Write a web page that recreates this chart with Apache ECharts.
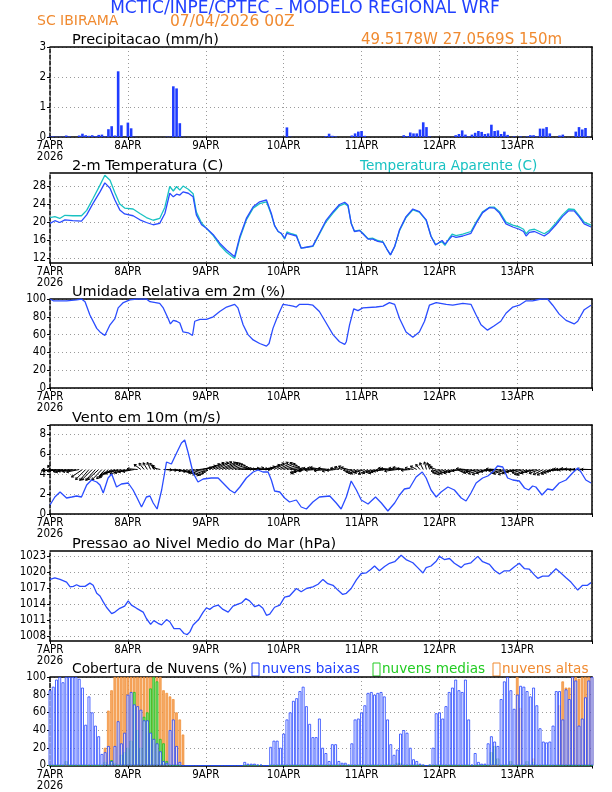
<!DOCTYPE html>
<html><head><meta charset="utf-8">
<script src="https://cdn.jsdelivr.net/npm/echarts/dist/echarts.min.js"></script>
<style>html,body{margin:0;padding:0;background:#fff}#c{width:612px;height:792px}</style>
</head><body><div id="c"></div>
<script>
const dayLabels = ['7APR','8APR','9APR','10APR','11APR','12APR','13APR'];
const hours = Array.from({length:168}, (_, i) => i);

const precip = [0.02,0.02,0.01,0.01,0.01,0.05,0.02,0,0,0.05,
0.11,0.06,0.04,0.06,0.03,0.07,0.08,0.02,0.26,0.36,
0.05,2.19,0.39,0,0.48,0.29,0.01,0,0,0,
0,0,0,0,0,0,0.01,0.01,1.69,1.62,
0.46,0.01,0,0,0,0,0,0,0,0,
0,0,0,0,0,0,0,0,0,0,
0,0,0,0,0,0,0,0,0,0,
0,0,0,0.32,0.01,0,0,0,0,0,
0,0,0,0,0,0.03,0.11,0.04,0.02,0,
0,0,0,0.05,0.12,0.18,0.2,0.04,0,0,
0,0,0,0,0,0,0,0,0,0.06,
0.03,0.15,0.12,0.12,0.25,0.49,0.33,0.02,0,0,
0,0,0,0,0,0.06,0.1,0.22,0.08,0.02,
0.08,0.14,0.2,0.17,0.1,0.12,0.41,0.2,0.22,0.1,
0.18,0.07,0,0.02,0,0.02,0,0.02,0.06,0.06,
0.02,0.28,0.28,0.33,0.12,0,0,0.05,0.08,0,
0,0,0.18,0.33,0.25,0.3,0.02,0];

const tempC = [[0,19.7],[1.5,20.3],[3,19.9],[4.6,20.5],[7,20.3],[9.7,20.2],[11.3,21.6],[13.3,24.2],[15.4,26.7],[16.9,28.7],[18.5,27.5],[20,24.9],[21.5,22.7],[23,21.8],[25.6,21.4],[27.7,20.5],[29.7,19.9],[31.8,19.4],[33.8,19.7],[35.4,21.9],[36.9,26.4],[38,25.6],[39,26.2],[40,26.0],[41,26.7],[42.6,26.4],[44.1,25.6],[45.1,21.6],[46.7,19.4],[48.2,18.6],[50.3,17.2],[52.3,15.3],[54.4,13.8],[56.9,12.3],[58.5,16.8],[60.5,20.8],[62.6,23.4],[64.6,24.5],[66.7,24.9],[67.2,24.8],[68.2,21.9],[69.2,19.2],[70.3,17.9],[71.3,17.5],[72.3,16.4],[73,17.5],[74.4,17.2],[75.9,16.9],[77.4,14.2],[79,14.4],[81,14.7],[83,17.5],[85,20.3],[87.2,22.3],[89.2,23.9],[90.8,24.4],[91.8,23.8],[92.8,19.7],[93.8,17.9],[95.4,18.1],[96.4,17.4],[98,16.2],[99.5,16.2],[101,15.7],[102.6,15.5],[103.8,14.0],[104.9,12.7],[106.2,14.6],[107.7,18.3],[109.7,21.2],[111.8,22.9],[113.8,22.3],[115.9,20.5],[117.4,16.8],[118.8,14.9],[120,15.5],[120.8,15.9],[121.7,15.1],[122.9,16.1],[123.9,16.9],[125.1,16.6],[127.2,16.9],[129.7,17.5],[131.3,19.7],[133.3,22.1],[135.4,23.2],[136.9,23.1],[138.5,22.0],[140.5,19.6],[142.6,18.9],[144.6,18.4],[145.9,17.9],[146.7,16.9],[147.7,17.7],[149.3,17.9],[150.8,17.4],[152.3,16.9],[153.8,17.7],[155.9,19.4],[157.9,21.2],[159.8,22.5],[161.5,22.5],[163,21.2],[164.6,19.6],[166.7,18.9]];

const tempAp = [[0,21.0],[1.5,21.2],[3,20.8],[4.6,21.5],[7,21.4],[9.7,21.4],[11.3,22.6],[13.3,25.3],[15.4,28.2],[16.9,30.4],[18.5,29.3],[20,26.5],[21.5,24.0],[23,23.1],[25.6,22.9],[27.7,21.9],[29.7,21.0],[31.8,20.4],[33.8,20.8],[35.4,23.3],[36.9,27.9],[38,26.9],[39,27.9],[40,27.1],[41,28.0],[42.6,27.3],[44.1,26.3],[45.1,22.2],[46.7,19.8],[48.2,18.6],[50.3,17.0],[52.3,14.9],[54.4,13.3],[56.9,11.9],[58.5,16.4],[60.5,20.5],[62.6,23.1],[64.6,24.1],[66.7,24.5],[67.2,24.4],[68.2,21.6],[69.2,19.2],[70.3,17.9],[71.3,17.4],[72.3,16.2],[73,17.8],[74.4,17.4],[75.9,17.1],[77.4,14.2],[79,14.4],[81,14.6],[83,17.3],[85,20.0],[87.2,22.0],[89.2,23.6],[90.8,24.1],[91.8,23.6],[92.8,19.8],[93.8,18.0],[95.4,18.2],[96.4,17.5],[98,16.3],[99.5,16.4],[101,15.9],[102.6,15.6],[103.8,14.0],[104.9,12.7],[106.2,14.5],[107.7,18.1],[109.7,21.0],[111.8,22.7],[113.8,22.2],[115.9,20.4],[117.4,16.9],[118.8,15.0],[120,15.4],[120.8,15.6],[121.7,14.8],[122.9,16.3],[123.9,17.3],[125.1,17.0],[127.2,17.3],[129.7,17.9],[131.3,20.0],[133.3,22.3],[135.4,23.3],[136.9,23.3],[138.5,22.3],[140.5,20.0],[142.6,19.3],[144.6,18.9],[145.9,18.4],[146.7,17.4],[147.7,18.2],[149.3,18.4],[150.8,17.9],[152.3,17.4],[153.8,18.1],[155.9,19.8],[157.9,21.6],[159.8,22.9],[161.5,22.8],[163,21.5],[164.6,20.0],[166.7,19.3]];

const relHum = [[0,100],[1,98],[5.1,98],[8.2,99],[9.7,100],[10.8,97],[12.3,82],[14.4,67],[15.4,63],[16.9,59],[17.4,60],[18.5,71],[20,78],[21,90],[22.6,96],[24.6,99],[26.7,100],[29.7,100],[30.8,97],[33.8,95],[34.9,90],[36.4,78],[37.1,72],[38,76],[39,75],[40,73],[41,63],[42.6,62],[43.9,59],[44.6,75],[46.2,77],[48.2,77],[50.3,80],[52.3,86],[54.4,91],[56.9,94],[57.9,90],[59.5,71],[61,60],[62.6,54],[64.6,50],[66.7,47],[67.5,50],[68.7,67],[70.3,82],[71.8,94],[73.3,93],[74.9,92],[75.9,91],[76.9,94],[79.5,94],[81,93],[83,86],[85.1,73],[87.2,60],[89.2,52],[90.8,49],[91.3,52],[92.3,71],[93.6,89],[94.9,87],[96.4,90],[100.5,91],[102.6,92],[104.6,96],[106.2,94],[107.7,78],[109.7,63],[111.8,57],[113.8,63],[115.4,75],[116.9,93],[119,96],[122.1,94],[124.1,93],[127.2,95],[129.7,94],[131.3,82],[132.8,71],[134.8,65],[136.9,70],[138.9,75],[140.5,84],[142.6,91],[144.6,93],[146.7,98],[148.7,98],[151.3,100],[153.3,100],[154.9,93],[156.9,83],[159,76],[161.5,72],[162.6,75],[164.6,88],[166.7,93]];

const windSpd = [[0,0.9],[1.5,1.7],[3.1,2.2],[5.1,1.6],[6.7,1.7],[8.2,1.8],[9.7,1.7],[11.3,2.9],[12.8,3.4],[14.4,3.2],[15.4,2.9],[16.4,2.1],[17.9,3.6],[19,4.0],[20.5,2.7],[22,3.0],[24.1,3.1],[25.6,2.4],[26.7,1.7],[28.2,0.7],[29.7,1.7],[30.8,1.8],[31.8,1.1],[33,0.5],[34.4,2.4],[35.9,5.2],[37.4,5.0],[39,6.1],[40.5,7.1],[41.5,7.4],[42.6,6.1],[44.1,4.1],[45.6,3.2],[47.2,3.5],[49.7,3.6],[51.8,3.6],[53.3,3.1],[55.4,2.4],[56.9,2.1],[58.5,2.7],[60.5,3.6],[62.6,4.2],[64.1,4.4],[65.6,4.2],[67.2,4.2],[68.2,3.4],[69.2,2.3],[70.8,2.2],[72.3,1.6],[73.8,1.2],[75.9,1.4],[77.4,0.7],[79,0.5],[81,1.2],[83,1.7],[86.2,1.8],[88.2,1.1],[89.7,0.5],[91.3,1.7],[92.8,3.3],[94.4,2.4],[95.9,1.4],[98,1.0],[100.3,1.7],[102.1,1.1],[104.1,0.3],[106.2,1.1],[107.7,1.9],[109.2,2.5],[110.8,2.6],[112.8,3.7],[114.7,4.2],[115.9,3.6],[117.4,2.4],[119,1.7],[120.5,2.2],[122.6,2.7],[124.6,2.4],[126.7,1.6],[128.2,1.3],[129.7,2.1],[131.3,3.1],[133.3,3.6],[134.9,3.8],[136.4,4.2],[137.9,4.8],[139.5,4.7],[141,3.6],[142.6,3.4],[144.6,3.3],[146.2,2.6],[147.5,2.4],[148.7,2.8],[149.7,2.7],[151.6,1.9],[153.3,2.5],[154.9,2.4],[156.9,3.1],[159,3.4],[161,4.1],[162.6,4.6],[163.6,4.2],[165.1,3.4],[166.7,3.1]];

const windU = [-0.5,-2.8,-3.2,-3.0,-3.4,-3.1,-3.3,-3.5,-3.2,-3.0,
-2.6,-2.4,-2.2,-2.5,-2.3,-2.6,-2.4,-2.0,-2.2,-2.8,
-3.4,-3.6,-3.8,-3.5,-3.2,-3.0,-2.8,-2.5,-1.6,-1.2,
-1.0,-0.8,-0.9,-1.2,-1.8,2.0,2.4,2.6,3.0,3.4,
3.6,3.8,3.5,3.3,3.0,2.8,3.0,3.2,3.4,3.6,
3.8,3.9,4.0,3.8,3.6,3.4,3.2,3.0,2.8,2.6,
2.5,2.7,3.0,3.2,3.0,2.8,2.6,3.0,3.2,3.4,
3.6,3.5,3.2,3.0,2.6,2.0,-1.5,-2.0,-2.2,-2.0,
-2.2,-2.4,-2.6,-2.8,-3.0,-2.8,-2.6,-2.4,-2.2,-2.0,
-1.8,-1.6,-1.8,-2.0,-2.2,-2.4,-2.6,-2.5,-2.3,-2.1,
-2.0,-2.2,-2.4,-2.6,-2.8,-3.0,-3.2,-3.0,-2.8,-2.6,
-2.4,-2.2,-2.0,-1.5,-1.0,-0.8,-0.5,-0.6,-1.0,-1.5,
-2.0,-2.4,-2.6,-2.8,-3.0,-2.8,-2.6,-2.4,-2.2,-2.4,
-2.6,-2.8,-3.0,-3.2,-3.0,-2.8,-2.6,-2.4,-2.8,-3.0,
-3.2,-3.4,-3.0,-2.8,-2.6,-2.4,-2.8,-3.0,-3.2,-3.0,
-2.8,-2.6,-2.4,-2.2,-2.0,-2.2,-2.4,-2.6,-2.8,-3.0,
-3.2,-3.4,-3.6,-3.4,-3.2,-3.0,-2.8,-2.6];
const windV = [1.0,-0.2,-0.3,-0.4,-0.3,-0.5,-0.6,-0.4,-0.5,-0.6,
-1.8,-2.4,-2.6,-2.5,-2.6,-2.4,-2.5,-2.2,-2.0,-1.6,
-1.2,-1.0,-0.9,-1.1,-0.8,-0.6,-0.5,0.2,1.2,1.5,
1.6,1.7,1.5,1.0,0.4,-0.1,-0.2,-0.3,-0.5,-0.8,
-1.2,-1.4,-1.3,-1.0,-0.6,-0.2,0.4,0.9,1.3,1.6,
1.7,1.8,1.7,1.6,1.5,1.3,1.0,0.6,0.3,0.2,
0.1,0.3,0.4,0.2,0.0,0.3,0.7,1.1,1.5,1.7,
1.6,1.4,1.0,0.6,0.2,-0.3,-0.8,-1.0,-0.6,-0.3,
0.2,0.3,-0.2,0.4,0.5,-0.3,0.3,-0.4,-0.2,0.3,
0.6,0.8,0.5,-0.2,-0.6,-0.9,-1.0,-0.8,-1.1,-0.9,
-0.7,-0.9,-0.6,-0.4,-0.2,0.3,0.2,-0.4,0.3,0.5,
0.2,-0.2,0.4,0.8,1.2,1.6,1.8,1.6,1.2,0.6,
-0.4,-0.8,-1.0,-1.2,-1.0,-0.9,-0.6,-0.3,0.2,-0.2,
-0.5,-0.8,-0.6,-1.0,-1.2,-0.9,-0.5,-0.2,0.1,-0.3,
-0.8,-1.0,-1.2,-0.9,-0.6,-0.4,-0.8,-1.2,-1.3,-0.9,
-0.6,-0.9,-1.2,-1.3,-1.1,-0.8,-0.5,-0.3,-0.1,0.1,
0.0,-0.1,0.2,0.1,-0.1,0.0,0.1,0.0];
const windBase = 4.45;

const pressure = [[0,1018.6],[1.5,1018.9],[3.1,1018.6],[5.1,1018.1],[6.2,1017.2],[7.2,1017.3],[8.2,1017.6],[9.2,1017.3],[10.8,1017.3],[12.3,1017.9],[13.3,1017.5],[14.4,1016.0],[15.4,1015.5],[16.4,1014.4],[17.4,1013.4],[19,1012.2],[20,1012.5],[21.5,1013.2],[23,1013.6],[24.1,1014.6],[25.1,1013.8],[26.7,1013.2],[28.7,1012.5],[29.7,1011.3],[31,1010.2],[32,1010.9],[33.3,1010.4],[34.4,1010.1],[35.9,1011.1],[36.9,1010.7],[38.2,1009.4],[40,1009.4],[41.3,1008.5],[42.3,1008.3],[43.1,1008.8],[44.1,1010.1],[45.8,1011.1],[47.2,1012.5],[48.2,1013.3],[49.2,1013.0],[50.3,1013.5],[51.8,1013.8],[53.3,1013.0],[54.9,1012.5],[56.4,1013.6],[57.9,1014.0],[59,1014.2],[60.3,1015.0],[61.5,1014.6],[63.1,1013.5],[64.4,1013.8],[65.6,1013.2],[66.7,1011.9],[67.7,1012.1],[69.2,1013.4],[70.8,1013.8],[72.3,1015.3],[73.8,1015.5],[75.9,1016.9],[77.4,1016.3],[79,1016.9],[81,1017.2],[82.6,1017.7],[84.1,1018.6],[85.6,1017.8],[87.2,1017.5],[88.7,1016.6],[90.2,1015.8],[91.3,1016.0],[92.8,1016.9],[94.4,1018.5],[95.9,1019.7],[97.4,1019.8],[98.9,1020.5],[100,1021.1],[101.5,1020.2],[103.1,1021.0],[104.6,1021.6],[106.2,1021.9],[108.2,1023.1],[109.7,1022.3],[111.8,1021.7],[113.3,1020.8],[114.9,1019.8],[115.9,1020.8],[117.4,1021.1],[119,1022.0],[120,1022.9],[121.5,1022.3],[123.1,1022.5],[124.6,1021.6],[126.7,1020.8],[127.7,1021.4],[129.7,1021.7],[131.8,1022.9],[133.3,1021.9],[135.4,1021.4],[136.9,1020.3],[138.5,1019.6],[140,1020.2],[141.6,1020.2],[143.2,1021.0],[144.6,1021.6],[146.2,1020.6],[147.7,1020.5],[149.3,1019.4],[150.3,1018.8],[151.8,1019.2],[153.6,1019.2],[155.9,1020.6],[157.4,1019.8],[159,1018.9],[160.5,1018.1],[162.6,1016.6],[164.1,1017.5],[165.6,1017.5],[166.7,1018.0]];

const cloudLow = [85,89,97,100,94,100,100,100,100,98,
88,46,78,60,45,33,13,15,22,5,
22,50,25,37,80,83,69,67,63,51,
51,37,30,25,16,5,3,40,52,22,
4,0,0,0,0,0,0,0,0,0,
0,0,0,0,0,0,0,0,0,0,
4,2,2,2,1,1,0,0,21,28,
28,20,36,52,60,73,76,84,89,67,
47,32,32,53,20,14,5,24,24,5,
3,3,1,25,52,53,60,68,82,83,
80,82,83,78,52,24,12,18,36,40,
37,20,7,5,2,1,0,1,20,59,
60,53,67,83,88,97,85,83,97,52,
1,14,4,2,2,25,33,27,22,75,
95,100,85,64,80,90,89,84,78,88,
68,42,27,26,27,45,84,84,52,86,
75,100,96,45,53,77,96,100];
const cloudMid = [0,0,0,0,0,5,0,0,0,0,
0,0,0,0,0,0,0,4,0,6,
3,0,12,15,20,28,83,40,20,55,
60,87,100,95,30,25,5,0,0,0,
0,0,0,0,0,0,0,0,0,0,
0,0,0,0,0,0,0,0,0,0,
0,0,0,0,0,0,0,0,0,0,
0,0,0,0,0,0,0,0,0,0,
0,0,0,0,0,0,0,0,0,0,
0,0,0,0,0,0,0,0,0,0,
0,0,0,0,0,0,0,3,3,0,
0,0,0,0,0,0,0,0,0,0,
0,0,0,0,0,0,0,0,0,0,
0,0,0,0,0,0,15,22,8,0,
0,0,5,0,0,0,0,5,0,4,
0,0,0,0,0,0,0,0,0,0,
0,0,0,0,0,0,0,0];
const cloudHigh = [0,0,0,0,0,0,0,0,0,0,
0,0,0,0,0,0,0,20,62,85,
100,100,100,100,100,100,100,100,100,100,
100,100,100,100,100,85,82,78,75,60,
52,35,0,0,0,0,0,0,0,0,
0,0,0,0,0,0,0,0,0,0,
0,0,0,0,0,0,0,0,0,0,
0,0,0,0,0,0,0,0,0,0,
0,0,0,0,0,0,0,0,0,0,
0,0,0,0,0,0,0,0,0,0,
0,0,0,0,0,0,0,0,0,0,
0,0,0,0,0,0,0,0,0,0,
0,0,0,0,0,0,0,0,0,0,
0,0,0,0,0,0,0,0,0,0,
0,0,0,0,100,65,0,0,0,8,
0,0,0,0,0,0,0,68,95,88,
88,100,100,98,100,100,100,100];

const tempTicks = [12,16,20,24,28];
const presTicks = [1008,1011,1014,1017,1020,1023];

// ---------------- layout ----------------
const L = 50, W = 542;
const tops = [47,173,299,425,551,677];
const hts = [90,90,89,89,90,89];
const yRanges = [[0,3,1],[10.9,30.9,null],[0,100,20],[0,8.9,2],[1007.1,1023.9,null],[0,100,20]];
const FONT = "'DejaVu Sans Condensed','DejaVu Sans',sans-serif";
const BLUE = '#2a4cff';
const dotted = {type:[1,3], color:'#9a9a9a', width:1};

const grids = [], xAxes = [], yAxes = [];
tops.forEach((t, i) => {
  grids.push({left:L, top:t, width:W, height:hts[i], show:false});
  xAxes.push({
    gridIndex:i, type:'value', min:0, max:167, interval:24,
    axisLine:{show:true, onZero:false, lineStyle:{color:'#000', width:1.5}},
    axisTick:{show:true, length:3, lineStyle:{color:'#000'}},
    axisLabel:{color:'#000', fontSize:11.5, fontFamily:FONT, margin:4, lineHeight:11,
      formatter: v => (v % 24 === 0 && v/24 < dayLabels.length) ? (v === 0 ? dayLabels[0] + '\n2026' : dayLabels[v/24]) : ''},
    splitLine:{show:true, lineStyle:dotted}
  });
  // top frame
  xAxes.push({gridIndex:i, type:'value', min:0, max:167, position:'top',
    axisLine:{show:true, onZero:false, lineStyle:{color:'#000', width:1.5}},
    axisTick:{show:false}, axisLabel:{show:false}, splitLine:{show:false}});
  const r = yRanges[i];
  const ya = {
    gridIndex:i, type:'value', min:r[0], max:r[1],
    axisLine:{show:true, onZero:false, lineStyle:{color:'#000', width:1.5, type:[4,2]}},
    axisTick:{show:true, length:3, lineStyle:{color:'#000'}},
    axisLabel:{color:'#000', fontSize:11.5, fontFamily:FONT, margin:4},
    splitLine:{show:true, lineStyle:dotted}
  };
  if (r[2] !== null) {
    ya.interval = r[2];
    ya.axisLabel.formatter = v => (Math.abs(v / r[2] - Math.round(v / r[2])) < 1e-6) ? String(v) : '';
  } else {
    const ticks = i === 1 ? tempTicks : presTicks;
    ya.axisLabel.customValues = ticks;
    ya.axisLabel.formatter = v => String(v);
    ya.axisTick.customValues = ticks;
    ya.splitLine = {show:false};
  }
  yAxes.push(ya);
  // right frame
  yAxes.push({gridIndex:i, type:'value', min:r[0], max:r[1], position:'right',
    axisLine:{show:true, onZero:false, lineStyle:{color:'#000', width:1.5}},
    axisTick:{show:false}, axisLabel:{show:false}, splitLine:{show:false}});
});
const xi = i => i * 2, yi = i => i * 2;

function hGrid(vals) {
  return {silent:true, symbol:'none', label:{show:false}, lineStyle:dotted,
    data: vals.map(v => ({yAxis:v})), animation:false};
}

function vecRender(params, api) {
  const h = api.value(0), u = api.value(1), v = api.value(2);
  const p = api.coord([h, windBase]);
  const k = 4.2;
  const ex = p[0] + u * k, ey = p[1] - v * k;
  const ang = Math.atan2(ey - p[1], ex - p[0]);
  const hl = 2.6;
  const a1 = ang + Math.PI * 0.82, a2 = ang - Math.PI * 0.82;
  return {type:'group', children:[
    {type:'line', shape:{x1:p[0], y1:p[1], x2:ex, y2:ey}, style:{stroke:'#000', lineWidth:1}},
    {type:'polyline', shape:{points:[[ex + hl*Math.cos(a1), ey + hl*Math.sin(a1)], [ex, ey], [ex + hl*Math.cos(a2), ey + hl*Math.sin(a2)]]},
      style:{stroke:'#000', fill:null, lineWidth:1}}
  ]};
}

const lineSeries = (gi, data, color, extra) => Object.assign({
  type:'line', xAxisIndex:xi(gi), yAxisIndex:yi(gi), data, showSymbol:false,
  lineStyle:{color, width:1.3}, itemStyle:{color}, animation:false, z:5
}, extra || {});

const series = [
  {type:'bar', xAxisIndex:xi(0), yAxisIndex:yi(0), data:hours.map((h, i) => [h, precip[i]]),
   barWidth:2.6, itemStyle:{color:'#1f3cff'}, animation:false},
  lineSeries(1, tempAp, '#19c2c2', {markLine:hGrid(tempTicks)}),
  lineSeries(1, tempC, BLUE),
  lineSeries(2, relHum, BLUE),
  lineSeries(3, windSpd, BLUE),
  {type:'custom', xAxisIndex:xi(3), yAxisIndex:yi(3), renderItem:vecRender,
   data:hours.map((h, i) => [h, windU[i], windV[i]]), animation:false, z:4},
  lineSeries(4, pressure, BLUE, {markLine:hGrid(presTicks)}),
  {type:'bar', xAxisIndex:xi(5), yAxisIndex:yi(5), data:hours.map((h, i) => [h, cloudHigh[i]]),
   barWidth:2.6, barGap:'-100%', itemStyle:{color:'#f6ab68', borderColor:'#f08a2c', borderWidth:0.7}, animation:false},
  {type:'bar', xAxisIndex:xi(5), yAxisIndex:yi(5), data:hours.map((h, i) => [h, cloudMid[i]]),
   barWidth:2.6, barGap:'-100%', itemStyle:{color:'#7fe07f', borderColor:'#10c010', borderWidth:0.7}, animation:false},
  {type:'bar', xAxisIndex:xi(5), yAxisIndex:yi(5), data:hours.map((h, i) => [h, cloudLow[i]]),
   barWidth:2.8, barGap:'-100%', itemStyle:{color:'rgba(255,255,255,0.75)', borderColor:'#2040ff', borderWidth:0.8}, animation:false}
];

const txt = (text, x, y, size, color, align) => ({type:'text', x, y,
  style:{text, fontSize:size, fill:color, fontFamily:"'DejaVu Sans',sans-serif", textAlign:align || 'left', textVerticalAlign:'middle'}});
const ORANGE = '#f08a30';
const graphic = [
  txt('MCTIC/INPE/CPTEC \u2013 MODELO REGIONAL WRF', 305, 9, 17, '#2040ff', 'center'),
  txt('SC IBIRAMA', 37, 21.5, 14, ORANGE),
  txt('07/04/2026 00Z', 170, 21.5, 15.5, ORANGE),
  txt('Precipitacao (mm/h)', 72, 40, 14.5, '#000'),
  txt('49.5178W 27.0569S 150m', 361, 40, 15, ORANGE),
  txt('2-m Temperatura (C)', 72, 166, 14.5, '#000'),
  txt('Temperatura Aparente (C)', 360, 166, 13.6, '#19c2c2'),
  txt('Umidade Relativa em 2m (%)', 72, 292, 14.5, '#000'),
  txt('Vento em 10m (m/s)', 72, 418.5, 14.5, '#000'),
  txt('Pressao ao Nivel Medio do Mar (hPa)', 72, 544, 14.5, '#000'),
  txt('Cobertura de Nuvens (%)', 72, 669.5, 13.8, '#000'),
  {type:'rect', shape:{x:252, y:663, width:7, height:13}, style:{fill:'none', stroke:'#2040ff', lineWidth:1}},
  txt('nuvens baixas', 262, 669.5, 13.6, '#2040ff'),
  {type:'rect', shape:{x:373, y:663, width:7, height:13}, style:{fill:'none', stroke:'#22cc22', lineWidth:1}},
  txt('nuvens medias', 382, 669.5, 13.6, '#22cc22'),
  {type:'rect', shape:{x:493, y:663, width:7, height:13}, style:{fill:'none', stroke:ORANGE, lineWidth:1}},
  txt('nuvens altas', 502, 669.5, 13.6, ORANGE)
];

const chart = echarts.init(document.getElementById('c'), null, {renderer:'canvas'});
chart.setOption({animation:false, backgroundColor:'#fff', grid:grids, xAxis:xAxes, yAxis:yAxes, series, graphic});
</script></body></html>
